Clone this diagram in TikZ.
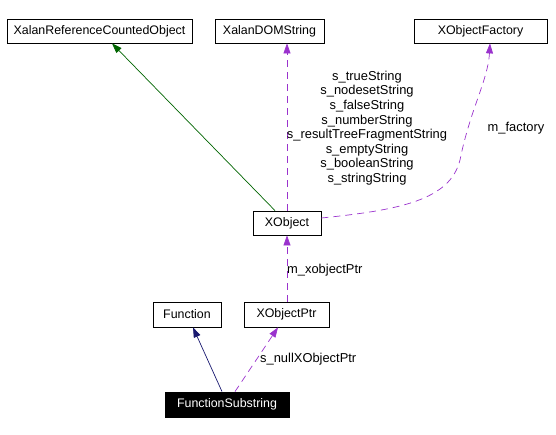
\documentclass[tikz,border=0pt]{standalone}
\usepackage{fontspec}
\setmainfont{Liberation Sans}
\usetikzlibrary{arrows.meta}
\definecolor{edgepurple}{HTML}{9A32CD}
\definecolor{edgegreen}{HTML}{006400}
\definecolor{edgenavy}{HTML}{191970}
\begin{document}
\begin{tikzpicture}[x=1pt,y=-1pt,
  box/.style={draw=black,line width=0.8pt,fill=white,inner sep=0pt,font=\fontsize{12.4}{14}\selectfont},
  lbl/.style={font=\fontsize{12.9}{14.6}\selectfont,inner sep=0pt},
  usearrow/.style={edgepurple,dash pattern=on 7pt off 5pt,line width=0.7pt,-{Triangle[length=10pt,width=7pt]}},
  inharrow/.style={line width=0.7pt,-{Triangle[length=10pt,width=7pt]}}]
\useasboundingbox (0,0) rectangle (556,435);
\node[box,minimum width=185pt,minimum height=24pt] (xrco) at (99.5,31) {XalanReferenceCountedObject};
\node[box,minimum width=109pt,minimum height=24pt] (xds) at (269.5,31) {XalanDOMString};
\node[box,minimum width=133pt,minimum height=24pt] (xof) at (480.5,31) {XObjectFactory};
\node[box,minimum width=68pt,minimum height=24pt] (xo) at (287,223) {XObject};
\node[box,minimum width=68pt,minimum height=25pt] (fn) at (187,314.5) {Function};
\node[box,minimum width=85pt,minimum height=25pt] (xop) at (286.5,314.5) {XObjectPtr};
\node[box,fill=black,text=white,minimum width=124pt,minimum height=25pt] (fs) at (227,404.5) {FunctionSubstring};

\draw[inharrow,edgegreen] (xo.north -| 275,0) -- (xrco.south -| 112,0);
\draw[usearrow] (xo.north) -- (xds.south -| xo.north);
\draw[usearrow] (xo.east |- 0,218) .. controls (400,210) and (450,200) .. (460,160) .. controls (470,110) and (488,80) .. (xof.south -| 490,0);
\draw[usearrow] (xop.north -| xo.south) -- (xo.south);
\draw[inharrow,edgenavy] (fs.north -| 222,0) -- (fn.south -| 193,0);
\draw[usearrow] (fs.north -| 235,0) -- (xop.south -| 278,0);

\node[lbl,align=center] (lab1) at (367,128) {s\_trueString\\s\_nodesetString\\s\_falseString\\s\_numberString\\s\_resultTreeFragmentString\\s\_emptyString\\s\_booleanString\\s\_stringString};
\node[lbl] (lab2) at (516,128) {m\_factory};
\node[lbl,anchor=west] (lab3) at (287,270) {m\_xobjectPtr};
\node[lbl,anchor=west] (lab4) at (260,359) {s\_nullXObjectPtr};
\end{tikzpicture}
\end{document}
